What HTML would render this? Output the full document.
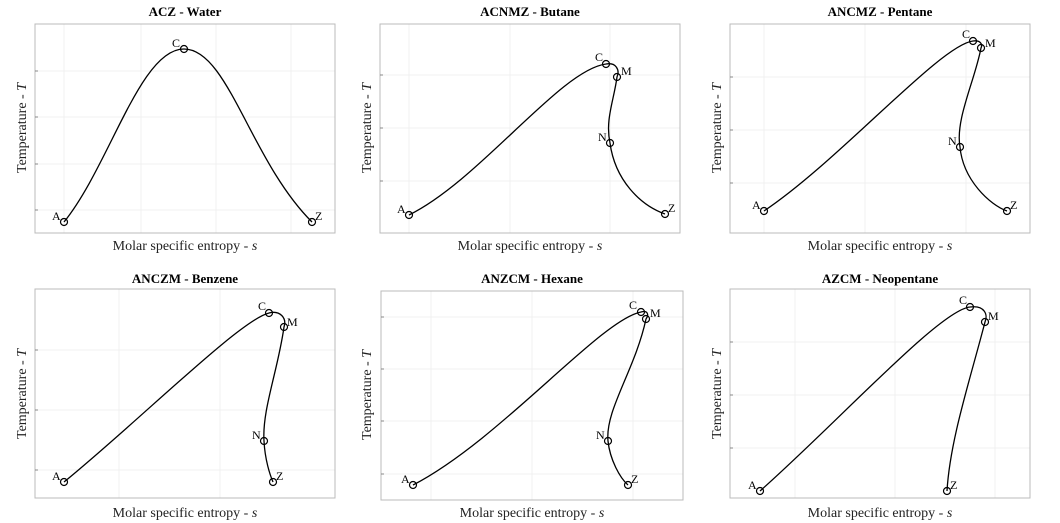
<!DOCTYPE html>
<html><head><meta charset="utf-8"><style>
body{margin:0;background:#fff}
svg{display:block;font-family:"Liberation Serif",serif}
.box{fill:none;stroke:#bbb;stroke-width:1}
.g{stroke:#f0f0f0;stroke-width:1}
.c{fill:none;stroke:#000;stroke-width:1.3}
.p{fill:none;stroke:#000;stroke-width:1.2}
.t{font-weight:bold;font-size:13px;text-anchor:middle}
.l{font-size:14px;text-anchor:middle;fill:#222}
.m{font-size:12px}
</style></head><body>
<svg width="1060" height="523" viewBox="0 0 1060 523">
<g>
<text class="t" x="185" y="16">ACZ - Water</text>
<g class="g"><line x1="64" y1="24" x2="64" y2="233"/><line x1="141" y1="24" x2="141" y2="233"/><line x1="216" y1="24" x2="216" y2="233"/><line x1="291" y1="24" x2="291" y2="233"/><line x1="35" y1="71" x2="335" y2="71"/><line x1="35" y1="117" x2="335" y2="117"/><line x1="35" y1="164" x2="335" y2="164"/><line x1="35" y1="210" x2="335" y2="210"/></g>
<rect class="box" x="35" y="24" width="300" height="209"/>
<g stroke="#888"><line x1="35" y1="71" x2="38" y2="71"/><line x1="35" y1="117" x2="38" y2="117"/><line x1="35" y1="164" x2="38" y2="164"/><line x1="35" y1="210" x2="38" y2="210"/></g>
<path class="c" d="M64,222 C110,165 140,49 184,49 C228,49 250,160 312,222"/>
<circle class="p" cx="64" cy="222" r="3.5"/><circle class="p" cx="184" cy="49" r="3.5"/><circle class="p" cx="312" cy="222" r="3.5"/>
<text class="m" x="52" y="220">A</text><text class="m" x="172" y="47">C</text><text class="m" x="315" y="220">Z</text>
<text class="l" x="185" y="250">Molar specific entropy - <tspan font-style="italic">s</tspan></text>
<text class="l" transform="translate(26,128) rotate(-90)">Temperature - <tspan font-style="italic">T</tspan></text>
</g>

<g>
<text class="t" x="530" y="16">ACNMZ - Butane</text>
<g class="g"><line x1="409" y1="24" x2="409" y2="233"/><line x1="510" y1="24" x2="510" y2="233"/><line x1="610" y1="24" x2="610" y2="233"/><line x1="380" y1="75" x2="680" y2="75"/><line x1="380" y1="128" x2="680" y2="128"/><line x1="380" y1="181" x2="680" y2="181"/></g>
<rect class="box" x="380" y="24" width="300" height="209"/>
<g stroke="#888"><line x1="380" y1="75" x2="383" y2="75"/><line x1="380" y1="128" x2="383" y2="128"/><line x1="380" y1="181" x2="383" y2="181"/></g>
<path class="c" d="M409,215 C480,180 560,70 606,64 C616,62 620,70 617,77 C614,100 605,120 610,143 C615,180 640,205 665,214"/>
<circle class="p" cx="409" cy="215" r="3.5"/><circle class="p" cx="606" cy="64" r="3.5"/><circle class="p" cx="617" cy="77" r="3.5"/><circle class="p" cx="610" cy="143" r="3.5"/><circle class="p" cx="665" cy="214" r="3.5"/>
<text class="m" x="397" y="213">A</text><text class="m" x="595" y="61">C</text><text class="m" x="621" y="75">M</text><text class="m" x="598" y="141">N</text><text class="m" x="668" y="212">Z</text>
<text class="l" x="530" y="250">Molar specific entropy - <tspan font-style="italic">s</tspan></text>
<text class="l" transform="translate(371,128) rotate(-90)">Temperature - <tspan font-style="italic">T</tspan></text>
</g>

<g>
<text class="t" x="880" y="16">ANCMZ - Pentane</text>
<g class="g"><line x1="764" y1="24" x2="764" y2="233"/><line x1="865" y1="24" x2="865" y2="233"/><line x1="966" y1="24" x2="966" y2="233"/><line x1="730" y1="77" x2="1030" y2="77"/><line x1="730" y1="130" x2="1030" y2="130"/><line x1="730" y1="183" x2="1030" y2="183"/></g>
<rect class="box" x="730" y="24" width="300" height="209"/>
<g stroke="#888"><line x1="730" y1="77" x2="733" y2="77"/><line x1="730" y1="130" x2="733" y2="130"/><line x1="730" y1="183" x2="733" y2="183"/></g>
<path class="c" d="M764,211 C840,160 940,45 973,41 C980,40 983,44 981,48 C975,80 955,120 960,147 C963,180 990,205 1007,211"/>
<circle class="p" cx="764" cy="211" r="3.5"/><circle class="p" cx="973" cy="41" r="3.5"/><circle class="p" cx="981" cy="48" r="3.5"/><circle class="p" cx="960" cy="147" r="3.5"/><circle class="p" cx="1007" cy="211" r="3.5"/>
<text class="m" x="752" y="209">A</text><text class="m" x="962" y="38">C</text><text class="m" x="985" y="47">M</text><text class="m" x="948" y="145">N</text><text class="m" x="1010" y="209">Z</text>
<text class="l" x="880" y="250">Molar specific entropy - <tspan font-style="italic">s</tspan></text>
<text class="l" transform="translate(721,128) rotate(-90)">Temperature - <tspan font-style="italic">T</tspan></text>
</g>

<g>
<text class="t" x="185" y="283">ANCZM - Benzene</text>
<g class="g"><line x1="119" y1="289" x2="119" y2="498"/><line x1="220" y1="289" x2="220" y2="498"/><line x1="35" y1="350" x2="335" y2="350"/><line x1="35" y1="410" x2="335" y2="410"/><line x1="35" y1="470" x2="335" y2="470"/></g>
<rect class="box" x="35" y="289" width="300" height="209"/>
<g stroke="#888"><line x1="35" y1="350" x2="38" y2="350"/><line x1="35" y1="410" x2="38" y2="410"/><line x1="35" y1="470" x2="38" y2="470"/></g>
<path class="c" d="M64,482 C140,420 240,320 269,313 C280,310 287,318 284,327 C278,370 262,410 264,441 C265,460 270,475 273,482"/>
<circle class="p" cx="64" cy="482" r="3.5"/><circle class="p" cx="269" cy="313" r="3.5"/><circle class="p" cx="284" cy="327" r="3.5"/><circle class="p" cx="264" cy="441" r="3.5"/><circle class="p" cx="273" cy="482" r="3.5"/>
<text class="m" x="52" y="480">A</text><text class="m" x="258" y="310">C</text><text class="m" x="287" y="326">M</text><text class="m" x="252" y="439">N</text><text class="m" x="276" y="480">Z</text>
<text class="l" x="185" y="517">Molar specific entropy - <tspan font-style="italic">s</tspan></text>
<text class="l" transform="translate(26,394) rotate(-90)">Temperature - <tspan font-style="italic">T</tspan></text>
</g>

<g>
<text class="t" x="532" y="283">ANZCM - Hexane</text>
<g class="g"><line x1="431" y1="291" x2="431" y2="500"/><line x1="532" y1="291" x2="532" y2="500"/><line x1="633" y1="291" x2="633" y2="500"/><line x1="381" y1="317" x2="683" y2="317"/><line x1="381" y1="369" x2="683" y2="369"/><line x1="381" y1="421" x2="683" y2="421"/><line x1="381" y1="474" x2="683" y2="474"/></g>
<rect class="box" x="381" y="291" width="302" height="209"/>
<g stroke="#888"><line x1="381" y1="317" x2="384" y2="317"/><line x1="381" y1="369" x2="384" y2="369"/><line x1="381" y1="421" x2="384" y2="421"/><line x1="381" y1="474" x2="384" y2="474"/></g>
<path class="c" d="M413,485 C500,440 600,320 641,312 C648,310 649,315 646,319 C635,370 605,410 608,441 C610,460 620,478 628,485"/>
<circle class="p" cx="413" cy="485" r="3.5"/><circle class="p" cx="641" cy="312" r="3.5"/><circle class="p" cx="646" cy="319" r="3.5"/><circle class="p" cx="608" cy="441" r="3.5"/><circle class="p" cx="628" cy="485" r="3.5"/>
<text class="m" x="401" y="483">A</text><text class="m" x="629" y="309">C</text><text class="m" x="650" y="317">M</text><text class="m" x="596" y="439">N</text><text class="m" x="631" y="483">Z</text>
<text class="l" x="532" y="517">Molar specific entropy - <tspan font-style="italic">s</tspan></text>
<text class="l" transform="translate(371,395) rotate(-90)">Temperature - <tspan font-style="italic">T</tspan></text>
</g>

<g>
<text class="t" x="880" y="283">AZCM - Neopentane</text>
<g class="g"><line x1="795" y1="289" x2="795" y2="498"/><line x1="895" y1="289" x2="895" y2="498"/><line x1="995" y1="289" x2="995" y2="498"/><line x1="730" y1="342" x2="1030" y2="342"/><line x1="730" y1="395" x2="1030" y2="395"/><line x1="730" y1="448" x2="1030" y2="448"/></g>
<rect class="box" x="730" y="289" width="300" height="209"/>
<g stroke="#888"><line x1="730" y1="342" x2="733" y2="342"/><line x1="730" y1="395" x2="733" y2="395"/><line x1="730" y1="448" x2="733" y2="448"/></g>
<path class="c" d="M760,491 C840,420 940,310 970,307 C985,305 988,315 985,322 C970,380 950,440 947,491"/>
<circle class="p" cx="760" cy="491" r="3.5"/><circle class="p" cx="970" cy="307" r="3.5"/><circle class="p" cx="985" cy="322" r="3.5"/><circle class="p" cx="947" cy="491" r="3.5"/>
<text class="m" x="748" y="489">A</text><text class="m" x="959" y="304">C</text><text class="m" x="988" y="320">M</text><text class="m" x="950" y="489">Z</text>
<text class="l" x="880" y="517">Molar specific entropy - <tspan font-style="italic">s</tspan></text>
<text class="l" transform="translate(721,394) rotate(-90)">Temperature - <tspan font-style="italic">T</tspan></text>
</g>
</svg>
</body></html>
